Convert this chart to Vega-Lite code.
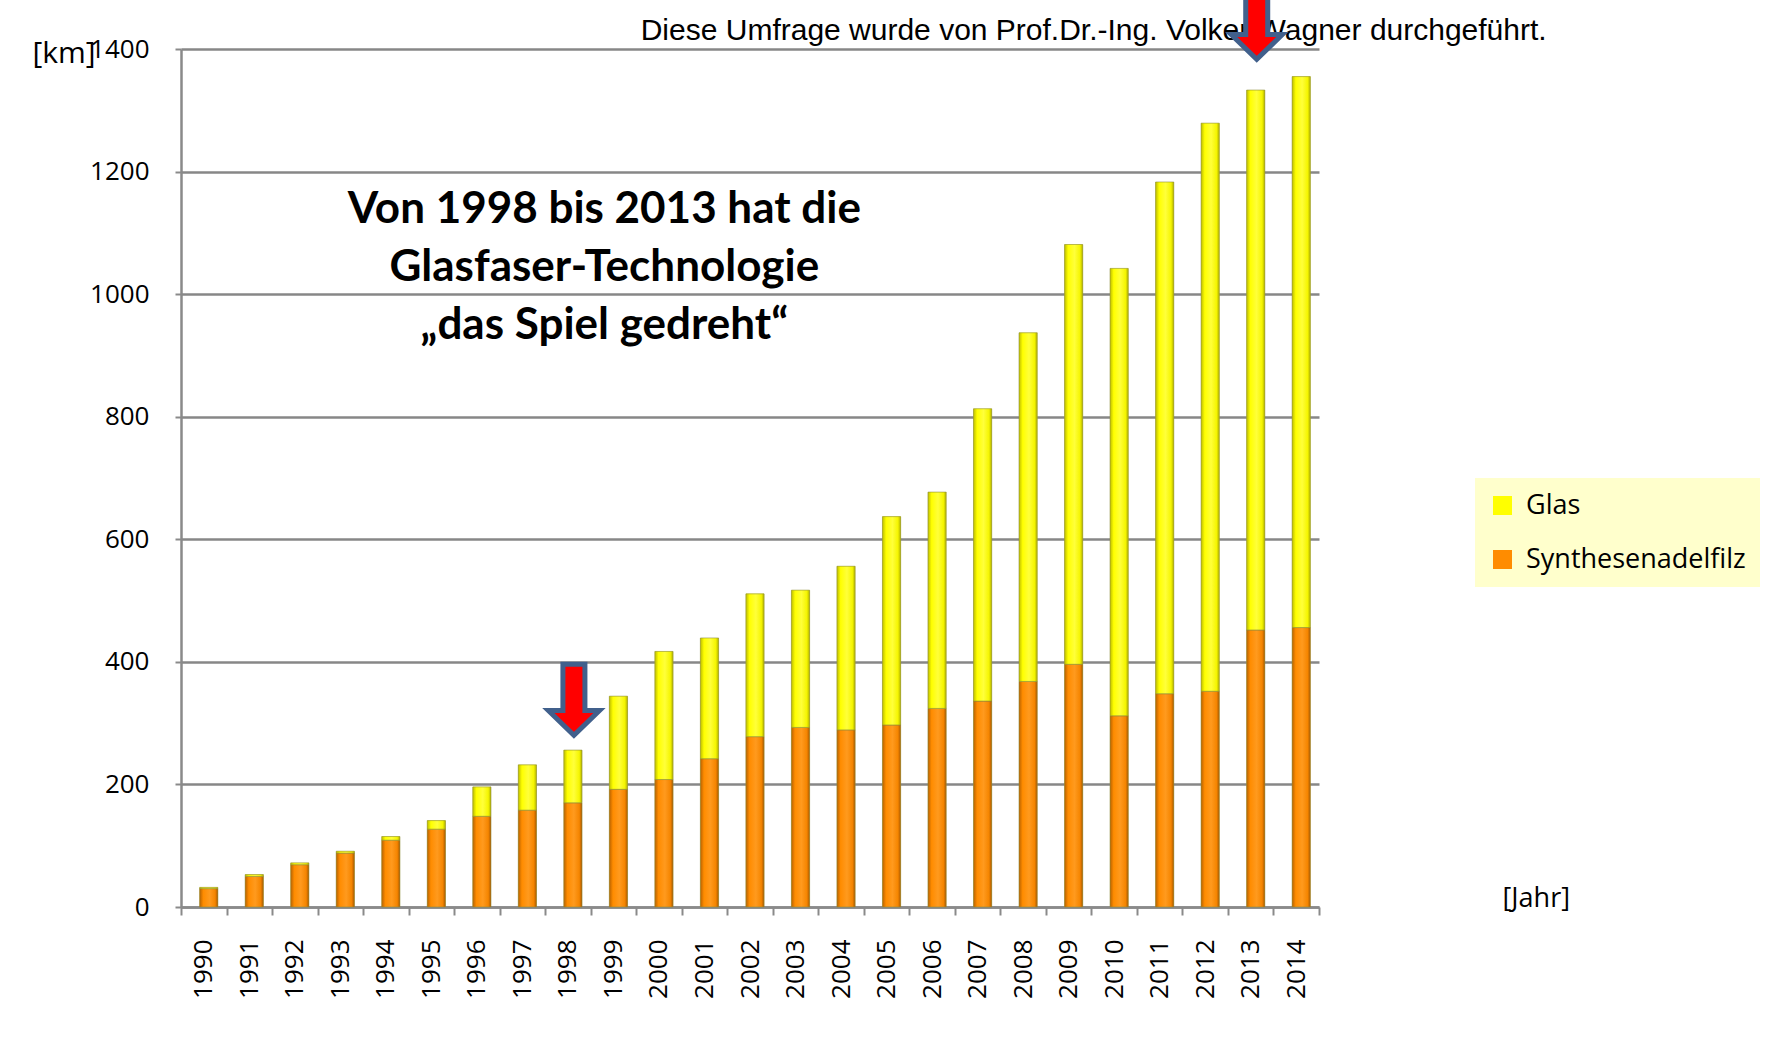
{
  "$schema": "https://vega.github.io/schema/vega-lite/v6.json",
  "width": 1138,
  "height": 858,
  "autosize": {"type": "none"},
  "padding": {"left": 181, "top": 49, "right": 462, "bottom": 147},
  "background": "white",
  "config": {"view": {"stroke": null}, "font": "Open Sans"},
  "datasets": {
    "km": [
      {"year": "1990", "series": "Synthesenadelfilz", "km": 30}, {"year": "1990", "series": "Glas", "km": 2},
      {"year": "1991", "series": "Synthesenadelfilz", "km": 50}, {"year": "1991", "series": "Glas", "km": 3},
      {"year": "1992", "series": "Synthesenadelfilz", "km": 69}, {"year": "1992", "series": "Glas", "km": 3},
      {"year": "1993", "series": "Synthesenadelfilz", "km": 88}, {"year": "1993", "series": "Glas", "km": 3},
      {"year": "1994", "series": "Synthesenadelfilz", "km": 109}, {"year": "1994", "series": "Glas", "km": 6},
      {"year": "1995", "series": "Synthesenadelfilz", "km": 127}, {"year": "1995", "series": "Glas", "km": 14},
      {"year": "1996", "series": "Synthesenadelfilz", "km": 148}, {"year": "1996", "series": "Glas", "km": 48},
      {"year": "1997", "series": "Synthesenadelfilz", "km": 158}, {"year": "1997", "series": "Glas", "km": 74},
      {"year": "1998", "series": "Synthesenadelfilz", "km": 170}, {"year": "1998", "series": "Glas", "km": 86},
      {"year": "1999", "series": "Synthesenadelfilz", "km": 192}, {"year": "1999", "series": "Glas", "km": 152},
      {"year": "2000", "series": "Synthesenadelfilz", "km": 208}, {"year": "2000", "series": "Glas", "km": 209},
      {"year": "2001", "series": "Synthesenadelfilz", "km": 242}, {"year": "2001", "series": "Glas", "km": 197},
      {"year": "2002", "series": "Synthesenadelfilz", "km": 278}, {"year": "2002", "series": "Glas", "km": 233},
      {"year": "2003", "series": "Synthesenadelfilz", "km": 293}, {"year": "2003", "series": "Glas", "km": 224},
      {"year": "2004", "series": "Synthesenadelfilz", "km": 289}, {"year": "2004", "series": "Glas", "km": 267},
      {"year": "2005", "series": "Synthesenadelfilz", "km": 297}, {"year": "2005", "series": "Glas", "km": 340},
      {"year": "2006", "series": "Synthesenadelfilz", "km": 324}, {"year": "2006", "series": "Glas", "km": 353},
      {"year": "2007", "series": "Synthesenadelfilz", "km": 336}, {"year": "2007", "series": "Glas", "km": 477},
      {"year": "2008", "series": "Synthesenadelfilz", "km": 368}, {"year": "2008", "series": "Glas", "km": 569},
      {"year": "2009", "series": "Synthesenadelfilz", "km": 396}, {"year": "2009", "series": "Glas", "km": 685},
      {"year": "2010", "series": "Synthesenadelfilz", "km": 312}, {"year": "2010", "series": "Glas", "km": 730},
      {"year": "2011", "series": "Synthesenadelfilz", "km": 348}, {"year": "2011", "series": "Glas", "km": 835},
      {"year": "2012", "series": "Synthesenadelfilz", "km": 352}, {"year": "2012", "series": "Glas", "km": 927},
      {"year": "2013", "series": "Synthesenadelfilz", "km": 452}, {"year": "2013", "series": "Glas", "km": 881},
      {"year": "2014", "series": "Synthesenadelfilz", "km": 456}, {"year": "2014", "series": "Glas", "km": 899}
    ],
    "arrows": [
      {"year": "1998", "km": 338},
      {"year": "2013", "km": 1441}
    ]
  },
  "layer": [
    {
      "data": {"name": "km"},
      "mark": {"type": "bar", "width": {"band": 0.4}, "xOffset": 5},
      "encoding": {
        "x": {
          "field": "year", "type": "nominal", "title": "[Jahr]",
          "scale": {"paddingInner": 0, "paddingOuter": 0},
          "axis": {
            "titleAngle": 0, "titleAlign": "left", "titleBaseline": "middle",
            "titleX": 1321, "titleY": -9, "titleFont": "Open Sans", "titleFontSize": 27,
            "titleFontWeight": "normal", "titleColor": "#000000",
            "labelAngle": 270, "labelFont": "Open Sans", "labelFontSize": 26, "labelColor": "#000000",
            "labelPadding": 24, "tickSize": 8, "tickBand": "extent", "tickColor": "#8a8a8a", "tickWidth": 2,
            "domainColor": "#8a8a8a", "domainWidth": 2.5, "grid": false
          }
        },
        "y": {
          "field": "km", "type": "quantitative", "stack": "zero", "title": "[km]",
          "scale": {"domain": [0, 1400], "nice": false},
          "axis": {
            "titleAngle": 0, "titleAlign": "left", "titleBaseline": "middle",
            "titleX": -149, "titleY": 4, "titleFont": "Open Sans", "titleFontSize": 30,
            "titleFontWeight": "normal", "titleColor": "#000000",
            "values": [0, 200, 400, 600, 800, 1000, 1200, 1400], "format": "d",
            "labelFont": "Open Sans", "labelFontSize": 26, "labelColor": "#000000", "labelPadding": 26,
            "tickSize": 6, "tickColor": "#8a8a8a", "tickWidth": 2,
            "domainColor": "#8a8a8a", "domainWidth": 2.5,
            "grid": true, "gridColor": "#878787", "gridWidth": 2.5
          }
        },
        "color": {
          "field": "series", "type": "nominal",
          "scale": {"domain": ["Glas", "Synthesenadelfilz"], "range": ["#FFFF00", "#FF8C00"]},
          "legend": {
            "title": null, "orient": "none", "legendX": 1294, "legendY": 429,
            "fillColor": "#FFFFCC", "padding": 14, "symbolType": "square", "symbolSize": 361,
            "symbolStrokeWidth": 0, "symbolOpacity": 1, "labelFont": "Open Sans", "labelFontSize": 27,
            "labelColor": "#000000", "rowPadding": 26, "labelOffset": 10, "labelLimit": 400
          }
        },
        "order": {"field": "series", "sort": "descending"}
      }
    },
    {
      "data": {"name": "km"},
      "mark": {"type": "bar", "width": {"band": 0.4}, "xOffset": 5, "stroke": "#8c8c3c", "strokeWidth": 1, "strokeOpacity": 0.6},
      "encoding": {
        "x": {"field": "year", "type": "nominal", "title": "[Jahr]"},
        "y": {"field": "km", "type": "quantitative", "stack": "zero", "title": "[km]"},
        "detail": {"field": "series"},
        "order": {"field": "series", "sort": "descending"},
        "fill": {
          "condition": {
            "test": "datum.series === 'Glas'",
            "value": {"gradient": "linear", "x1": 0, "x2": 1, "y1": 0, "y2": 0,
              "stops": [{"offset": 0, "color": "#BDBD00"}, {"offset": 0.2, "color": "#FFFF00"}, {"offset": 0.55, "color": "#FFFF3A"}, {"offset": 0.85, "color": "#F5F500"}, {"offset": 1, "color": "#B0B000"}]}
          },
          "value": {"gradient": "linear", "x1": 0, "x2": 1, "y1": 0, "y2": 0,
            "stops": [{"offset": 0, "color": "#B86200"}, {"offset": 0.2, "color": "#FF8C00"}, {"offset": 0.55, "color": "#FF9A1E"}, {"offset": 0.85, "color": "#F58500"}, {"offset": 1, "color": "#A85800"}]}
        }
      }
    },
    {
      "data": {"values": [{}]},
      "mark": {
        "type": "text",
        "text": ["Von 1998 bis 2013 hat die", "Glasfaser-Technologie", "„das Spiel gedreht“"],
        "font": "Lato", "fontWeight": "bold", "fontSize": 44, "lineHeight": 58,
        "align": "center", "baseline": "middle", "color": "#000000"
      },
      "encoding": {
        "x": {"datum": "1999", "type": "nominal", "bandPosition": 0.3, "title": "[Jahr]"},
        "y": {"datum": 1137, "type": "quantitative", "title": "[km]"}
      }
    },
    {
      "data": {"values": [{}]},
      "mark": {
        "type": "text",
        "text": "Diese Umfrage wurde von Prof.Dr.-Ing. Volker Wagner durchgeführt.",
        "font": "Liberation Sans", "fontSize": 30, "align": "center", "baseline": "middle", "color": "#000000"
      },
      "encoding": {
        "x": {"datum": "2010", "type": "nominal", "bandPosition": 0.05, "title": "[Jahr]"},
        "y": {"datum": 1429, "type": "quantitative", "title": "[km]"}
      }
    },
    {
      "data": {"name": "arrows"},
      "mark": {
        "type": "point",
        "shape": "M -0.31 -1 L 0.31 -1 L 0.31 0.3 L 0.72 0.3 L 0 1 L -0.72 0.3 L -0.31 0.3 Z",
        "size": 5041, "xOffset": 6, "filled": true, "fill": "#FF0000", "stroke": "#41608c", "strokeWidth": 5, "opacity": 1
      },
      "encoding": {
        "x": {"field": "year", "type": "nominal", "title": "[Jahr]"},
        "y": {"field": "km", "type": "quantitative", "title": "[km]"}
      }
    }
  ]
}
